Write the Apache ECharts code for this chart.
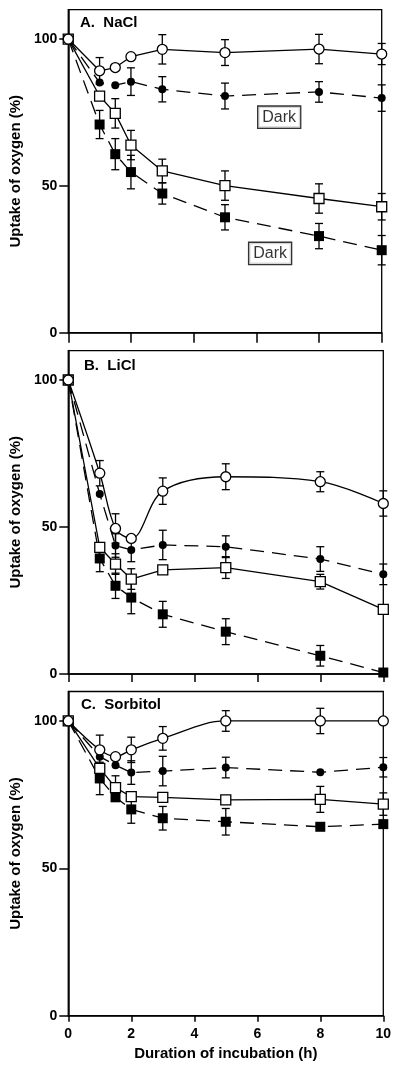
<!DOCTYPE html>
<html>
<head>
<meta charset="utf-8">
<script src="https://cdn.jsdelivr.net/npm/echarts@6/dist/echarts.min.js"></script>
<style>
html,body{margin:0;padding:0;background:#fff;}
#chart{width:400px;height:1070px;}
</style>
</head>
<body>
<div id="chart"></div>
<script>
// ---- data ----
const hours = [0, 1, 1.5, 2, 3, 5, 8, 10];
const xTicks = [0, 2, 4, 6, 8, 10];
const yTicks = [0, 50, 100];
const panelTitles = ['A.  NaCl', 'B.  LiCl', 'C.  Sorbitol'];

// Panel A: NaCl
const naclLightCircle = [100, 89.2, 90.3, 94.0, 96.5, 95.4, 96.6, 94.9];
const naclLightCircleErr = [0, 4.5, 0, 0, 5.0, 4.4, 5.0, 3.6];
const naclDarkCircle = [100, 85.2, 84.3, 85.5, 82.9, 80.6, 82.0, 79.9];
const naclDarkCircleErr = [0, 0, 0, 4.7, 4.3, 4.4, 3.5, 4.5];
const naclLightSquare = [100, 80.6, 74.7, 63.9, 55.1, 50.1, 45.7, 42.9];
const naclLightSquareErr = [0, 0, 5.0, 5.0, 4.0, 5.0, 5.0, 4.5];
const naclDarkSquare = [100, 70.9, 60.8, 54.7, 47.4, 39.3, 32.9, 28.1];
const naclDarkSquareErr = [0, 4.8, 5.3, 5.7, 3.6, 4.3, 4.3, 5.0];

// Panel B: LiCl
const liclLightCircle = [100, 68.3, 49.5, 46.1, 62.2, 67.1, 65.4, 58.0];
const liclLightCircleErr = [0, 4.3, 5.0, 0, 4.5, 4.4, 3.4, 4.3];
const liclDarkCircle = [100, 61.2, 43.7, 42.2, 43.9, 43.3, 39.1, 33.9];
const liclDarkCircleErr = [0, 0, 4.0, 4.0, 5.0, 3.7, 4.2, 3.5];
const liclLightSquare = [100, 43.1, 37.4, 32.3, 35.4, 36.2, 31.4, 22.0];
const liclLightSquareErr = [0, 0, 3.5, 3.5, 0, 3.7, 2.5, 0];
const liclDarkSquare = [100, 39.3, 30.0, 26.0, 20.3, 14.4, 6.2, 0.5];
const liclDarkSquareErr = [0, 4.5, 4.3, 5.5, 4.4, 4.4, 3.5, 0];

// Panel C: Sorbitol
const sorbLightCircle = [100, 90.2, 87.9, 90.2, 94.1, 100, 100, 100];
const sorbLightCircleErr = [0, 5.0, 0, 4.3, 4.0, 3.5, 4.3, 0];
const sorbDarkCircle = [100, 87.9, 85.0, 82.5, 83.0, 84.2, 82.6, 84.3];
const sorbDarkCircleErr = [0, 0, 0, 4.0, 5.0, 3.5, 0, 3.3];
const sorbLightSquare = [100, 83.9, 77.4, 74.3, 74.1, 73.2, 73.4, 71.8];
const sorbLightSquareErr = [0, 0, 4.0, 0, 0, 0, 4.4, 3.8];
const sorbDarkSquare = [100, 80.5, 74.1, 70.0, 67.0, 65.8, 64.1, 65.0];
const sorbDarkSquareErr = [0, 5.5, 0, 4.7, 4.0, 4.5, 0, 0];

// "Dark" annotations (panel A, data coords)
const darkLabelX = [6.73, 6.44];
const darkLabelY = [73.4, 27.0];
const darkLabelText = ['Dark', 'Dark'];

// ---- chart ----
const FONT = '"Liberation Sans", Arial, Helvetica, sans-serif';
const LW = 1.3;

const grids = [
  {left: 57.3, right: 18.3, top: 9.7, height: 323},
  {left: 59.3, right: 16.7, top: 350.6, height: 323.4},
  {left: 59.3, right: 16.7, top: 691.5, height: 324.2}
];
const tickLens = [10, 8, 6];

const panels = [
  {lc: naclLightCircle, lce: naclLightCircleErr, dc: naclDarkCircle, dce: naclDarkCircleErr,
   ls: naclLightSquare, lse: naclLightSquareErr, ds: naclDarkSquare, dse: naclDarkSquareErr, smooth: false},
  {lc: liclLightCircle, lce: liclLightCircleErr, dc: liclDarkCircle, dce: liclDarkCircleErr,
   ls: liclLightSquare, lse: liclLightSquareErr, ds: liclDarkSquare, dse: liclDarkSquareErr, smooth: 0.35},
  {lc: sorbLightCircle, lce: sorbLightCircleErr, dc: sorbDarkCircle, dce: sorbDarkCircleErr,
   ls: sorbLightSquare, lse: sorbLightSquareErr, ds: sorbDarkSquare, dse: sorbDarkSquareErr, smooth: 0.35}
];

function errSeries(idx, vals, errs) {
  const data = [];
  hours.forEach((h, i) => { if (errs[i] > 0) data.push([h, vals[i], errs[i]]); });
  return {
    type: 'custom', xAxisIndex: idx, yAxisIndex: idx, z: 1, silent: true,
    data: data,
    clip: false,
    renderItem: function (params, api) {
      const x = api.value(0), y = api.value(1), e = api.value(2);
      const top = api.coord([x, y + e]);
      const bot = api.coord([x, y - e]);
      const cw = 4;
      const style = {stroke: '#000', lineWidth: LW, fill: null};
      return {
        type: 'group',
        children: [
          {type: 'line', shape: {x1: top[0], y1: top[1], x2: bot[0], y2: bot[1]}, style: style},
          {type: 'line', shape: {x1: top[0] - cw, y1: top[1], x2: top[0] + cw, y2: top[1]}, style: style},
          {type: 'line', shape: {x1: bot[0] - cw, y1: bot[1], x2: bot[0] + cw, y2: bot[1]}, style: style}
        ]
      };
    },
    encode: {x: 0, y: 1}
  };
}

function lineSeries(idx, vals, opts) {
  return {
    type: 'line', xAxisIndex: idx, yAxisIndex: idx, z: opts.z || 3,
    data: hours.map((h, i) => [h, vals[i]]),
    symbol: opts.symbol, symbolSize: opts.size,
    showSymbol: true,
    smooth: opts.smooth || false,
    clip: false,
    lineStyle: {color: '#000', width: LW, type: opts.dashed ? [14, 8] : 'solid'},
    itemStyle: {color: opts.fill, borderColor: '#000', borderWidth: opts.fill === '#fff' ? LW : 0},
    emphasis: {disabled: true}
  };
}

const xAxes = [], yAxes = [], series = [], titles = [];
grids.forEach((g, idx) => {
  const last = idx === 2;
  xAxes.push({
    gridIndex: idx, type: 'value', min: 0, max: 10, interval: 2,
    axisLine: {show: true, onZero: false, lineStyle: {color: '#000', width: 1.5}},
    axisTick: {show: true, inside: false, length: tickLens[idx], lineStyle: {color: '#000', width: 1.5}},
    axisLabel: {show: last, margin: 11, color: '#000', fontFamily: FONT, fontWeight: 'bold', fontSize: 14},
    splitLine: {show: false},
    name: last ? 'Duration of incubation (h)' : '',
    nameLocation: 'middle', nameGap: 31,
    nameTextStyle: {color: '#000', fontFamily: FONT, fontWeight: 'bold', fontSize: 15}
  });
  yAxes.push({
    gridIndex: idx, type: 'value', min: 0, max: 110, interval: 50,
    axisLine: {show: true, onZero: false, lineStyle: {color: '#000', width: 1.5}},
    axisTick: {show: true, inside: false, length: 9, lineStyle: {color: '#000', width: 1.5}, customValues: yTicks},
    axisLabel: {margin: 11, color: '#000', fontFamily: FONT, fontWeight: 'bold', fontSize: 14, customValues: yTicks,
      formatter: v => (yTicks.indexOf(v) >= 0 ? String(v) : '')},
    splitLine: {show: false},
    name: 'Uptake of oxygen (%)', nameLocation: 'middle', nameGap: 30,
    nameTextStyle: {color: '#000', fontFamily: FONT, fontWeight: 'bold', fontSize: 15}
  });
  const p = panels[idx];
  series.push(errSeries(idx, p.lc, p.lce));
  series.push(errSeries(idx, p.dc, p.dce));
  series.push(errSeries(idx, p.ls, p.lse));
  series.push(errSeries(idx, p.ds, p.dse));
  series.push(lineSeries(idx, p.ds, {symbol: 'rect', size: 10, fill: '#000', dashed: true, z: 3}));
  series.push(lineSeries(idx, p.ls, {symbol: 'rect', size: 10, fill: '#fff', dashed: false, z: 4}));
  series.push(lineSeries(idx, p.dc, {symbol: 'circle', size: 8, fill: '#000', dashed: true, z: 5}));
  series.push(lineSeries(idx, p.lc, {symbol: 'circle', size: 10, fill: '#fff', dashed: false, smooth: p.smooth, z: 6}));
});

titles.push({text: panelTitles[0], left: 80, top: 15});
titles.push({text: panelTitles[1], left: 84, top: 358.5});
titles.push({text: panelTitles[2], left: 81, top: 697});
titles.forEach(t => { t.padding = 0; t.textStyle = {color: '#000', fontFamily: FONT, fontWeight: 'bold', fontSize: 15}; });

series.push({
  type: 'scatter', xAxisIndex: 0, yAxisIndex: 0, z: 7, silent: true,
  symbolSize: 0,
  data: darkLabelX.map((x, i) => ({value: [x, darkLabelY[i]], name: darkLabelText[i]})),
  label: {
    show: true, position: 'inside', formatter: p => p.name,
    color: '#000', fontFamily: FONT, fontSize: 16,
    backgroundColor: '#fff', borderColor: '#000', borderWidth: 1.3,
    padding: [3, 4, 2, 4]
  }
});

const chart = echarts.init(document.getElementById('chart'), null, {renderer: 'canvas'});
chart.setOption({
  animation: false,
  backgroundColor: '#fff',
  title: titles,
  grid: grids.map(g => Object.assign({show: true, borderColor: '#000', borderWidth: 1.3, backgroundColor: 'transparent', containLabel: false}, g)),
  xAxis: xAxes,
  yAxis: yAxes,
  series: series
});
</script>
</body>
</html>
